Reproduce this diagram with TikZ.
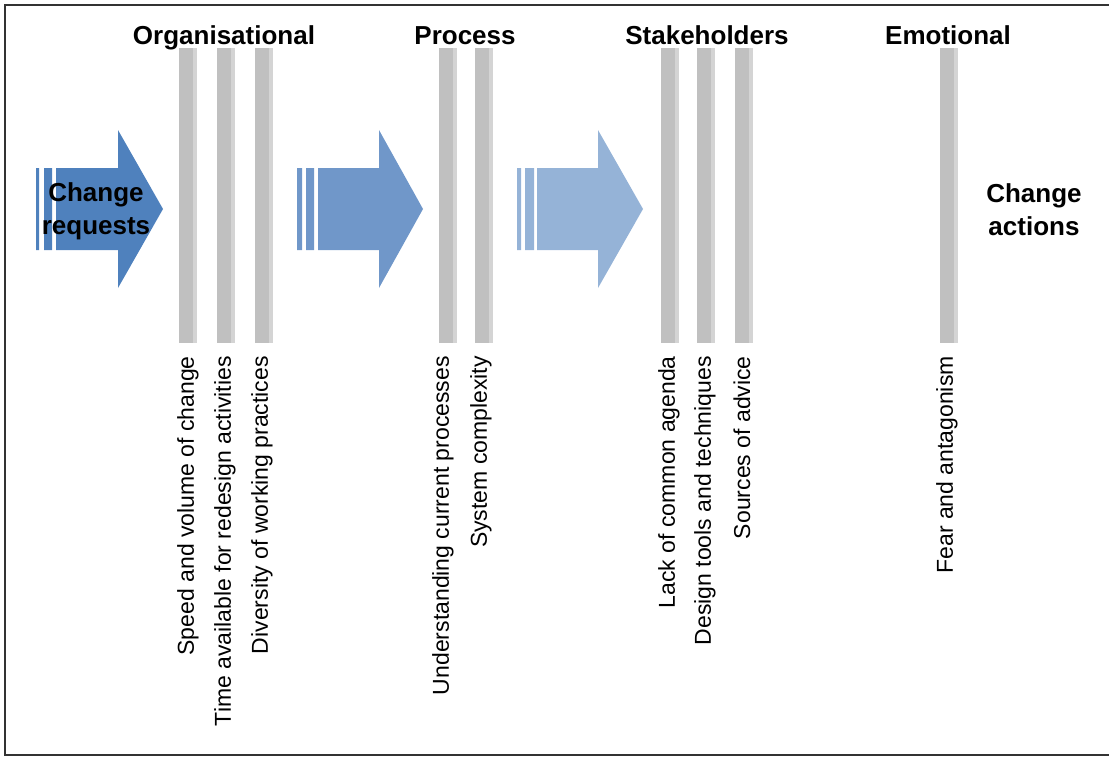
\documentclass[tikz,border=0pt]{standalone}
\usepackage{fontspec}
\setmainfont{Liberation Sans}
\usetikzlibrary{calc}
\tikzset{>=latex}

\definecolor{arrowdark}{RGB}{79,129,189}
\definecolor{arrowmid}{RGB}{112,151,201}
\definecolor{arrowlight}{RGB}{149,179,215}
\definecolor{bargray}{RGB}{192,192,192}
\definecolor{baredge}{RGB}{212,212,212}

\begin{document}
\begin{tikzpicture}[x=1pt,y=-1pt,
    bar/.style={rectangle, fill=bargray, inner sep=0pt, minimum width=18pt, minimum height=295pt,
        path picture={\fill[baredge] (path picture bounding box.north east) rectangle ([xshift=-4pt]path picture bounding box.south east);}},
    cause/.style={rotate=90, anchor=east, inner sep=0pt, font=\fontsize{23}{25}\selectfont},
    heading/.style={anchor=base, font=\fontsize{26}{30}\selectfont\bfseries},
    endpoint/.style={align=center, font=\fontsize{26}{33}\selectfont\bfseries}]
    \useasboundingbox (0,0) rectangle (1109,756);
    \draw[line width=1.5pt, black!80] (1109,5) -- (5,5) -- (5,755) -- (1109,755);

    % big arrows
    \fill[arrowdark] (36,168) rectangle (39,250) (44,168) rectangle (52,250)
        (56,168) -- (118,168) -- (118,130) -- (163,209) -- (118,288) -- (118,250) -- (56,250) -- cycle;
    \fill[arrowmid] (297,168) rectangle (302,250) (306,168) rectangle (314,250)
        (318,168) -- (379,168) -- (379,130) -- (423,209) -- (379,288) -- (379,250) -- (318,250) -- cycle;
    \fill[arrowlight] (517,168) rectangle (521,250) (525,168) rectangle (534,250)
        (537,168) -- (598,168) -- (598,130) -- (643,209) -- (598,288) -- (598,250) -- (537,250) -- cycle;

    \node[endpoint] (requests) at (96,211) {Change\\requests};
    \node[endpoint] (actions) at (1034,210) {Change\\actions};

    % factor groups
    \node[heading] (organisational) at (224,44) {Organisational};
    \node[heading] (process) at (465,44) {Process};
    \node[heading] (stakeholders) at (707,44) {Stakeholders};
    \node[heading] (emotional) at (948,44) {Emotional};

    \node[bar] (speed) at (188,195.5) {};
    \node[bar] (time) at (226,195.5) {};
    \node[bar] (diversity) at (264,195.5) {};
    \node[bar] (understanding) at (448,195.5) {};
    \node[bar] (complexity) at (484,195.5) {};
    \node[bar] (agenda) at (670,195.5) {};
    \node[bar] (tools) at (706,195.5) {};
    \node[bar] (advice) at (744,195.5) {};
    \node[bar] (fear) at (949,195.5) {};

    \node[cause] (speedtext) at (188,356) {Speed and volume of change};
    \node[cause] (timetext) at (225,356) {Time available for redesign activities};
    \node[cause] (diversitytext) at (262,356) {Diversity of working practices};
    \node[cause] (understandingtext) at (443,356) {Understanding current processes};
    \node[cause] (complexitytext) at (481,356) {System complexity};
    \node[cause] (agendatext) at (669,356) {Lack of common agenda};
    \node[cause] (toolstext) at (705,356) {Design tools and techniques};
    \node[cause] (advicetext) at (742,356) {Sources of advice};
    \node[cause] (feartext) at (947,356) {Fear and antagonism};
\end{tikzpicture}
\end{document}
